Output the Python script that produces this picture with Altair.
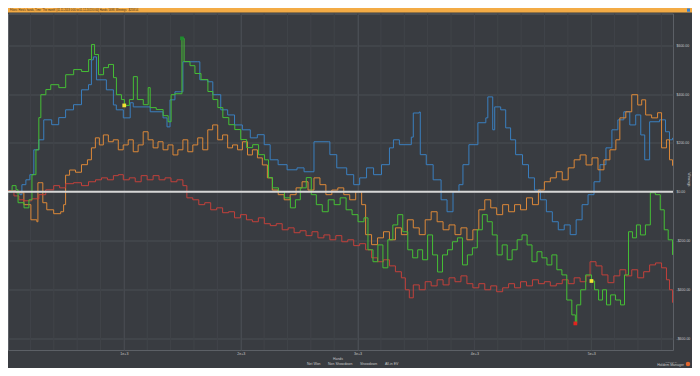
import altair as alt
import pandas as pd

# ---------------- data (hands, winnings in $) ----------------
net_h = [8, 43, 77, 94, 145, 187, 213, 247, 272, 289, 332, 374, 443, 502, 570, 638, 698, 723, 749, 783, 826, 868, 911, 936, 979, 1004, 1047, 1081, 1115, 1166, 1208, 1225, 1277, 1336, 1379, 1404, 1438, 1497, 1515, 1566, 1608, 1660, 1719, 1762, 1804, 1847, 1898, 1949, 2000, 2051, 2102, 2153, 2204, 2238, 2272, 2323, 2374, 2425, 2468, 2510, 2561, 2604, 2647, 2698, 2749, 2800, 2851, 2902, 2953, 3004, 3055, 3089, 3132, 3174, 3217, 3259, 3302, 3344, 3387, 3430, 3472, 3515, 3557, 3600, 3642, 3685, 3727, 3770, 3812, 3855, 3898, 3940, 3983, 4025, 4068, 4110, 4153, 4195, 4238, 4281, 4323, 4366, 4408, 4451, 4493, 4536, 4578, 4621, 4663, 4706, 4749, 4791, 4834, 4864, 4876, 4910, 4953, 5002, 5029, 5063, 5097, 5131, 5166, 5208, 5251, 5285, 5319, 5353, 5387, 5421, 5464, 5506, 5549, 5591, 5625, 5659, 5696]
net_v = [0, 25, 8, -45, -66, -33, 70, 172, 304, 398, 419, 439, 427, 480, 501, 493, 542, 604, 563, 480, 509, 522, 468, 398, 378, 354, 378, 472, 378, 357, 427, 345, 337, 312, 287, 398, 402, 629, 534, 517, 485, 460, 411, 378, 345, 304, 275, 255, 214, 181, 193, 152, 131, 58, 16, 0, -25, -66, -33, 16, 58, -12, -53, -82, -33, -53, -25, -74, -94, -123, -107, -238, -287, -218, -312, -197, -136, -94, -164, -238, -271, -238, -279, -177, -259, -329, -259, -238, -205, -189, -300, -259, -230, -156, -94, -123, -177, -259, -218, -279, -238, -197, -177, -218, -287, -246, -271, -300, -259, -320, -341, -444, -505, -540, -464, -402, -341, -366, -402, -444, -402, -464, -423, -444, -464, -341, -164, -189, -136, -177, -136, -4, -12, -74, -156, -197, -259]

nsd_h = [8, 59, 102, 144, 212, 272, 331, 399, 450, 501, 569, 637, 697, 757, 808, 859, 910, 952, 995, 1046, 1097, 1148, 1199, 1250, 1301, 1352, 1403, 1454, 1505, 1539, 1590, 1641, 1692, 1743, 1794, 1845, 1896, 1947, 1998, 2049, 2100, 2151, 2202, 2253, 2304, 2355, 2406, 2457, 2508, 2559, 2610, 2661, 2712, 2763, 2814, 2865, 2916, 2967, 3018, 3069, 3120, 3171, 3222, 3273, 3324, 3375, 3409, 3443, 3477, 3528, 3579, 3630, 3681, 3732, 3783, 3834, 3885, 3936, 3987, 4038, 4089, 4140, 4191, 4242, 4293, 4344, 4395, 4446, 4497, 4548, 4599, 4650, 4701, 4752, 4803, 4854, 4905, 4956, 4990, 5041, 5092, 5143, 5194, 5245, 5296, 5347, 5398, 5449, 5500, 5551, 5602, 5644, 5670, 5696]
nsd_v = [3, -17, -33, -37, -29, -12, 8, 25, 16, 33, 37, 25, 41, 49, 57, 49, 66, 70, 49, 57, 41, 66, 49, 66, 49, 57, 41, 49, 25, -25, -33, -53, -45, -74, -66, -86, -82, -107, -94, -115, -123, -107, -131, -139, -131, -156, -148, -168, -160, -180, -164, -189, -177, -197, -180, -205, -197, -221, -213, -238, -271, -287, -279, -304, -328, -353, -402, -435, -382, -402, -369, -386, -361, -382, -353, -369, -345, -377, -394, -377, -402, -386, -410, -394, -377, -394, -369, -386, -361, -377, -369, -386, -377, -361, -377, -353, -369, -345, -287, -304, -341, -373, -345, -320, -345, -320, -353, -328, -300, -292, -312, -361, -402, -455]

sd_h = [8, 76, 110, 127, 161, 195, 229, 272, 314, 382, 442, 501, 569, 637, 697, 722, 739, 765, 850, 910, 935, 995, 1054, 1080, 1225, 1335, 1369, 1395, 1437, 1488, 1505, 1633, 1650, 1718, 1761, 1829, 1888, 1947, 2014, 2082, 2142, 2201, 2252, 2320, 2397, 2482, 2542, 2627, 2754, 2763, 2822, 2907, 2967, 3018, 3077, 3137, 3205, 3273, 3307, 3358, 3460, 3477, 3528, 3537, 3588, 3647, 3715, 3766, 3817, 3868, 3902, 3953, 4030, 4098, 4115, 4157, 4174, 4225, 4268, 4310, 4353, 4412, 4463, 4514, 4565, 4616, 4667, 4718, 4769, 4820, 4871, 4922, 4973, 5024, 5075, 5126, 5177, 5228, 5279, 5330, 5381, 5424, 5458, 5500, 5585, 5636, 5670, 5696]
sd_v = [3, 0, -12, 29, 49, 70, 172, 213, 295, 275, 304, 336, 357, 418, 439, 541, 553, 459, 418, 356, 336, 303, 365, 348, 328, 303, 266, 377, 410, 410, 533, 533, 459, 451, 398, 336, 315, 274, 254, 221, 234, 193, 131, 111, 90, 98, 82, 205, 205, 152, 98, 70, 29, 57, 98, 70, 111, 180, 213, 193, 224, 323, 327, 152, 111, 49, -33, -82, 0, 29, 111, 193, 283, 303, 389, 254, 348, 336, 262, 213, 152, 111, 57, 7, -33, -82, -123, -156, -136, -176, -115, -53, -12, 41, 111, 180, 254, 295, 328, 274, 315, 233, 131, 287, 295, 246, 213, 221]

ev_h = [8, 76, 144, 204, 255, 264, 289, 306, 340, 399, 459, 484, 501, 535, 586, 637, 688, 722, 756, 790, 824, 867, 909, 952, 994, 1037, 1080, 1122, 1165, 1207, 1250, 1292, 1335, 1377, 1420, 1462, 1505, 1547, 1590, 1632, 1675, 1718, 1760, 1803, 1845, 1888, 1930, 1973, 2015, 2058, 2100, 2143, 2185, 2228, 2270, 2321, 2372, 2423, 2474, 2525, 2576, 2627, 2678, 2729, 2780, 2831, 2882, 2933, 2984, 3035, 3069, 3120, 3171, 3222, 3273, 3324, 3375, 3426, 3477, 3528, 3579, 3630, 3681, 3732, 3783, 3834, 3885, 3936, 3987, 4038, 4089, 4140, 4191, 4242, 4293, 4344, 4395, 4446, 4497, 4548, 4599, 4650, 4701, 4752, 4803, 4854, 4905, 4956, 5007, 5058, 5109, 5160, 5211, 5245, 5296, 5347, 5398, 5432, 5466, 5517, 5568, 5602, 5644, 5670, 5696]
ev_v = [3, -4, -53, -115, -123, 37, 37, -45, -74, -90, -82, -53, 68, 89, 80, 111, 131, 180, 221, 192, 233, 205, 213, 172, 192, 213, 164, 192, 246, 213, 180, 205, 172, 192, 151, 172, 213, 164, 192, 221, 172, 254, 274, 213, 233, 180, 192, 172, 205, 151, 172, 139, 110, 57, 7, -12, -33, -12, 16, 41, 7, 57, 29, -12, 7, 16, -12, -33, 0, -53, -176, -217, -189, -164, -197, -148, -176, -115, -148, -176, -115, -82, -123, -156, -136, -176, -148, -197, -156, -74, -33, -66, -94, -53, -82, -53, -74, -25, -53, 7, 41, 57, 82, 49, 98, 131, 151, 110, 139, 90, 131, 172, 213, 303, 328, 398, 356, 377, 315, 303, 324, 180, 213, 131, 107]

series_names = ["Net Won", "Non Showdown", "Showdown", "All-in EV"]
series_colors = ["#45bf35", "#c2403b", "#3a7fbf", "#dc8838"]

marker_h = [1497, 1003, 5002, 4864]
marker_v = [629, 354, -366, -540]
marker_c = ["#1f8c2e", "#f2e233", "#f2e233", "#e3241e"]

x_ticks = [1000, 2000, 3000, 4000, 5000]
y_ticks = [-600, -400, -200, 0, 200, 400, 600]
minor_x = list(range(200, 5700, 200))

header_text = "Filters: Hero's hands, Time: 'The month' (01.11.2013 0:00 to 01.12.2013 0:00) Hands: 5698, Winnings: -$258.54"

# ---------------- build tables ----------------
rows = []
for name, hs, vs in [("Net Won", net_h, net_v), ("Non Showdown", nsd_h, nsd_v),
                     ("Showdown", sd_h, sd_v), ("All-in EV", ev_h, ev_v)]:
    for h, v in zip(hs, vs):
        rows.append({"hands": h, "value": v, "series": name})
df = pd.DataFrame(rows)
markers = pd.DataFrame({"hands": marker_h, "value": marker_v, "c": marker_c})
minor_df = pd.DataFrame({"hands": minor_x})

BG = "#393c41"
TXT = "#c8c8c8"
FONT = "Liberation Sans"
xs = alt.Scale(domain=[8, 5700], nice=False, zero=False)
ys = alt.Scale(domain=[-649, 731], nice=False, zero=False)
col = alt.Scale(domain=series_names, range=series_colors)

xaxis = alt.Axis(values=x_ticks, format=",", grid=True, gridColor="#4a4e54", gridWidth=1,
                 ticks=False, domain=False, labelFontSize=3.6, labelColor=TXT,
                 labelPadding=1, title=None, labelFont=FONT)
yaxis = alt.Axis(values=y_ticks, orient="right", grid=True, gridColor="#4a4e54", gridWidth=1,
                 ticks=False, domain=False, labelFontSize=3.5, labelColor=TXT,
                 labelPadding=3, labelAlign="left", labelFont=FONT,
                 labelExpr="(datum.value < 0 ? '-' : '') + '$' + format(abs(datum.value), ',.2f')",
                 title=None)

X = alt.X("hands:Q", scale=xs, axis=xaxis)
Y = alt.Y("value:Q", scale=ys, axis=yaxis)

base = alt.Chart(df)

grid_minor = alt.Chart(minor_df).mark_rule(color="#404449", strokeWidth=1).encode(x=X)

zero_line = alt.Chart(pd.DataFrame({"value": [0]})).mark_rule(color="#d6d6d6", strokeWidth=2).encode(y=Y)

legend = alt.Legend(orient="none", legendX=294, legendY=348, direction="horizontal", title=None,
                    symbolType="square", symbolSize=7, symbolStrokeWidth=0, labelFontSize=3.5,
                    labelColor=TXT, labelFont=FONT, columnPadding=2,
                    symbolOffset=0, labelOffset=1.5)

lines = []
for name in ["Showdown", "All-in EV", "Non Showdown", "Net Won"]:
    lines.append(base.transform_filter(alt.datum.series == name).mark_line(
        interpolate="step-after", strokeWidth=1.0).encode(
        x=X, y=Y,
        color=alt.Color("series:N", scale=col, legend=legend, sort=series_names)))

marks = alt.Chart(markers).mark_square(size=14, opacity=1).encode(
    x=X, y=Y, color=alt.Color("c:N", scale=None))

deco = pd.DataFrame({"k": [0]})
top_bar = alt.Chart(deco).mark_rect(color="#f3ab45").encode(
    x=alt.value(0), x2=alt.value(684), y=alt.value(-5.5), y2=alt.value(-1))
top_icon = alt.Chart(deco).mark_rect(color="#2f7fd6").encode(
    x=alt.value(679), x2=alt.value(682), y=alt.value(-5), y2=alt.value(-1.8))
top_text = alt.Chart(deco).mark_text(text=header_text, align="left", baseline="middle",
                                     fontSize=2.6, color="#3b2a10", font=FONT).encode(
    x=alt.value(2), y=alt.value(-3.3))
hands_title = alt.Chart(deco).mark_text(text="Hands", align="center", baseline="middle",
                                        fontSize=3.4, color=TXT, font=FONT).encode(
    x=alt.value(330), y=alt.value(345))
win_title = alt.Chart(deco).mark_text(text="Winnings", align="center", baseline="middle",
                                      fontSize=3.4, color=TXT, font=FONT, angle=90).encode(
    x=alt.value(681), y=alt.value(166))
logo1 = alt.Chart(deco).mark_text(text="Powered by", align="right", baseline="middle",
                                  fontSize=2.2, color="#a8a8a8", font=FONT).encode(
    x=alt.value(669), y=alt.value(348.5))
logo2 = alt.Chart(deco).mark_text(text="Holdem Manager", align="right", baseline="middle",
                                  fontSize=3.5, color=TXT, font=FONT).encode(
    x=alt.value(676), y=alt.value(351.5))
logo_c = alt.Chart(deco).mark_circle(size=20, color="#e0662e", opacity=1).encode(
    x=alt.value(680), y=alt.value(350.5))

chart = alt.layer(grid_minor, *lines, zero_line, marks,
                  top_bar, top_icon, top_text, hands_title, win_title,
                  logo_c, logo1, logo2).properties(
    width=665, height=336.5,
    autosize=alt.AutoSizeParams(type="none"),
    padding={"left": 0, "top": 5.5, "right": 19, "bottom": 18},
    background=BG,
).configure_view(fill=BG, stroke="#5c6066", strokeWidth=1)

chart.save("out.html", embed_options={"renderer": "svg", "actions": False})
